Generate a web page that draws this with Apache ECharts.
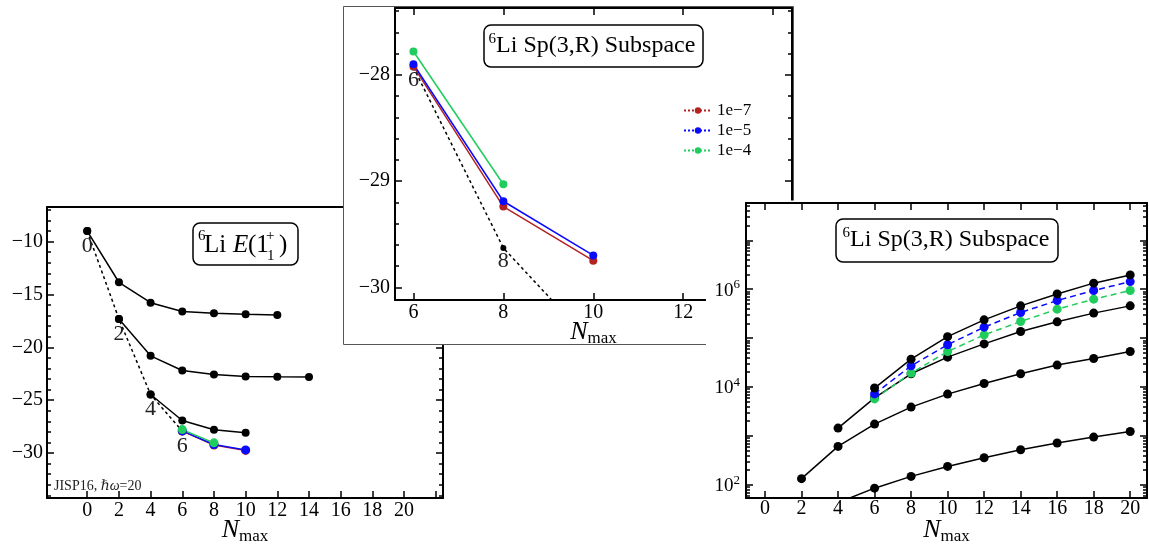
<!DOCTYPE html>
<html><head><meta charset="utf-8">
<script src="https://cdn.jsdelivr.net/npm/echarts@6/dist/echarts.min.js"></script>
<style>html,body{margin:0;padding:0;background:#fff}#c{width:1149px;height:544px}</style>
</head><body><div id="c"></div>
<script>
// ---------- DATA ----------
// Left panel: 6Li E(1+_1), JISP16
const leftAx = [0, 2, 4, 6, 8, 10, 12];
const leftAy = [-9.0, -13.84, -15.77, -16.6, -16.77, -16.86, -16.93];
const leftBx = [2, 4, 6, 8, 10, 12, 14];
const leftBy = [-17.31, -20.8, -22.19, -22.57, -22.76, -22.79, -22.8];
const leftCx = [4, 6, 8, 10];
const leftCy = [-24.46, -26.92, -27.8, -28.08];
const leftDotX = [0, 2, 4, 6];
const leftDotY = [-9.0, -17.31, -24.46, -27.93];
// Sp(3,R) subspace energies (shared by left panel and inset)
const spRedX = [6, 8, 10];   const spRedY = [-27.92, -29.24, -29.75];   // 1e-7
const spBlueX = [6, 8, 10];  const spBlueY = [-27.90, -29.19, -29.70];  // 1e-5
const spGreenX = [6, 8];     const spGreenY = [-27.78, -29.03];         // 1e-4
const insetDotX = [6, 8, 10];
const insetDotY = [-27.93, -29.63, -30.54];
// Right panel: dimensions (log scale)
const dimX1 = [6, 8, 10, 12, 14, 16, 18, 20];
const dimY1 = [9.5e3, 3.7e4, 1.07e5, 2.36e5, 4.56e5, 8.0e5, 1.33e6, 1.96e6];
const dimX2 = [4, 6, 8, 10, 12, 14, 16, 18, 20];
const dimY2 = [1440, 6000, 1.86e4, 4.07e4, 7.6e4, 1.36e5, 2.15e5, 3.24e5, 4.56e5];
const dimX3 = [2, 4, 6, 8, 10, 12, 14, 16, 18, 20];
const dimY3 = [133, 608, 1740, 3870, 7140, 1.18e4, 1.86e4, 2.8e4, 3.82e4, 5.3e4];
const dimX4 = [4, 6, 8, 10, 12, 14, 16, 18, 20];
const dimY4 = [43, 85, 148, 237, 357, 520, 713, 944, 1230];
const dimBlueX = [6, 8, 10, 12, 14, 16, 18, 20];
const dimBlueY = [7.2e3, 2.7e4, 7.3e4, 1.67e5, 3.33e5, 5.86e5, 9.4e5, 1.43e6];
const dimGreenX = [6, 8, 10, 12, 14, 16, 18, 20];
const dimGreenY = [5.7e3, 1.92e4, 5.3e4, 1.16e5, 2.18e5, 3.9e5, 6.25e5, 9.4e5];
// tick labels
const leftXTicks = [0, 2, 4, 6, 8, 10, 12, 14, 16, 18, 20, 22];
const leftXLabels = [0, 2, 4, 6, 8, 10, 12, 14, 16, 18, 20];
const legendNames = ['1e\u22127', '1e\u22125', '1e\u22124'];

// ---------- STYLE ----------
const FONT = 'Liberation Serif, DejaVu Serif, Times New Roman, serif';
const RED = '#b42222', BLUE = '#0a0aff', GREEN = '#1fcc5c';
const pts = (xs, ys) => xs.map((x, i) => [x, ys[i]]);
const minus = v => String(v).replace('-', '\u2212');

const axLine = { show: true, onZero: false, lineStyle: { color: '#000', width: 2 } };
const tick = { show: true, inside: true, length: 7, lineStyle: { color: '#000', width: 1.5 } };
const minor = n => ({ show: true, splitNumber: n, length: 4, lineStyle: { color: '#000', width: 1.5 } });
const nameRich = {
  n: { fontFamily: FONT, fontSize: 26, fontStyle: 'italic', color: '#000', lineHeight: 30, verticalAlign: 'middle' },
  s: { fontFamily: FONT, fontSize: 17, color: '#000', lineHeight: 30, verticalAlign: 'bottom' }
};
const lblStyle = { fontFamily: FONT, fontSize: 20, color: '#000' };
const NAME_GAP = 17;
const nameOpts = { name: '{n|N}{s|max}', nameLocation: 'middle', nameGap: NAME_GAP, nameMoveOverlap: false,
  nameTextStyle: { rich: nameRich } };

const xAxes = [
  Object.assign({ gridIndex: 0, type: 'value', min: -2.54, max: 22.46, zlevel: 0, z: 3,
    axisLine: axLine, axisTick: Object.assign({}, tick, { customValues: leftXTicks }),
    axisLabel: Object.assign({}, lblStyle, { margin: 3, customValues: leftXLabels }),
    splitLine: { show: false } }, nameOpts),
  { gridIndex: 0, type: 'value', position: 'top', min: -2.54, max: 22.46, zlevel: 0, z: 3,
    axisLine: axLine, axisTick: { show: false }, axisLabel: { show: false }, splitLine: { show: false } },
  Object.assign({ gridIndex: 1, type: 'value', min: 5.59, max: 14.42, splitNumber: 4, zlevel: 1, z: 3,
    axisLine: axLine, axisTick: tick, axisLabel: Object.assign({}, lblStyle, { margin: 3, showMinLabel: false, showMaxLabel: false }),
    splitLine: { show: false } }, nameOpts),
  { gridIndex: 1, type: 'value', position: 'top', min: 5.59, max: 14.42, splitNumber: 4, zlevel: 1, z: 3,
    axisLine: axLine, axisTick: tick, axisLabel: { show: false }, splitLine: { show: false } },
  Object.assign({ gridIndex: 2, type: 'value', min: -1.04, max: 20.92, splitNumber: 11, zlevel: 2, z: 3,
    axisLine: axLine, axisTick: tick,
    axisLabel: Object.assign({}, lblStyle, { margin: 1, formatter: v => (Number.isInteger(v) && v >= 0 && v <= 20) ? String(v) : '' }),
    splitLine: { show: false } }, nameOpts),
  { gridIndex: 2, type: 'value', position: 'top', min: -1.04, max: 20.92, splitNumber: 11, zlevel: 2, z: 3,
    axisLine: axLine, axisTick: tick, axisLabel: { show: false }, splitLine: { show: false } }
];

const logFmt = v => {
  const l = Math.log10(v), e = Math.round(l);
  if (Math.abs(l - e) > 1e-6 || e % 2 !== 0) return '';
  return '{b|10}{s|' + e + '}';
};
const logRich = {
  b: { fontFamily: FONT, fontSize: 19, color: '#000', lineHeight: 22, verticalAlign: 'bottom' },
  s: { fontFamily: FONT, fontSize: 13, color: '#000', lineHeight: 22, verticalAlign: 'top' }
};

const yAxes = [
  { gridIndex: 0, type: 'value', min: -34.25, max: -6.72, splitNumber: 5, zlevel: 0, z: 3,
    axisLine: axLine, axisTick: tick, minorTick: minor(5),
    axisLabel: Object.assign({}, lblStyle, { margin: 4, formatter: v => (Number.isInteger(v) && v % 5 === 0) ? minus(v) : '' }),
    splitLine: { show: false } },
  { gridIndex: 0, type: 'value', position: 'right', min: -34.25, max: -6.72, splitNumber: 5, zlevel: 0, z: 3,
    axisLine: axLine, axisTick: tick, minorTick: minor(5), axisLabel: { show: false }, splitLine: { show: false } },
  { gridIndex: 1, type: 'value', min: -30.12, max: -27.37, splitNumber: 3, zlevel: 1, z: 3,
    axisLine: axLine, axisTick: tick, minorTick: minor(5),
    axisLabel: Object.assign({}, lblStyle, { margin: 5, formatter: v => Number.isInteger(v) ? minus(v) : '' }),
    splitLine: { show: false } },
  { gridIndex: 1, type: 'value', position: 'right', min: -30.12, max: -27.37, splitNumber: 3, zlevel: 1, z: 3,
    axisLine: axLine, axisTick: tick, minorTick: minor(5), axisLabel: { show: false }, splitLine: { show: false } },
  { gridIndex: 2, type: 'log', logBase: 10, min: 53.5, max: 5.8e7, zlevel: 2, z: 3,
    axisLine: axLine, axisTick: tick, minorTick: minor(9),
    axisLabel: { margin: 6, formatter: logFmt, rich: logRich },
    splitLine: { show: false } },
  { gridIndex: 2, type: 'log', logBase: 10, position: 'right', min: 53.5, max: 5.8e7, zlevel: 2, z: 3,
    axisLine: axLine, axisTick: tick, minorTick: minor(9), axisLabel: { show: false }, splitLine: { show: false } }
];

function line(name, data, xi, color, opts) {
  const o = opts || {};
  return {
    name: name, type: 'line', xAxisIndex: xi, yAxisIndex: xi, data: data,
    zlevel: o.zlevel || 0, z: o.z || 5,
    symbol: 'circle', symbolSize: o.size || 8, showSymbol: true,
    lineStyle: { color: color, width: o.width || 1.5, type: o.type || 'solid' },
    itemStyle: { color: color },
    label: o.label || { show: false },
    emphasis: { disabled: true }, silent: true
  };
}
const dotLabel = (dist) => ({
  show: true, position: 'bottom', distance: dist, fontFamily: FONT, fontSize: 22, color: '#222',
  formatter: p => String(p.value[0])
});

const series = [
  // left panel
  line('dotL', pts(leftDotX, leftDotY), 0, '#000', { type: [3, 3], label: dotLabel(0) }),
  line('A', pts(leftAx, leftAy), 0, '#000'),
  line('B', pts(leftBx, leftBy), 0, '#000'),
  line('C', pts(leftCx, leftCy), 0, '#000'),
  line('L7', pts(spRedX, spRedY), 0, RED, { size: 9 }),
  line('L5', pts(spBlueX, spBlueY), 0, BLUE, { size: 9 }),
  line('L4', pts(spGreenX, spGreenY), 0, GREEN, { size: 9 }),
  // inset
  line('dotI', pts(insetDotX, insetDotY), 2, '#000', { zlevel: 1, size: 6, type: [3, 3], label: dotLabel(-1) }),
  line(legendNames[0], pts(spRedX, spRedY), 2, RED, { zlevel: 1 }),
  line(legendNames[1], pts(spBlueX, spBlueY), 2, BLUE, { zlevel: 1 }),
  line(legendNames[2], pts(spGreenX, spGreenY), 2, GREEN, { zlevel: 1 }),
  // right panel
  line('D4', pts(dimX4, dimY4), 4, '#000', { zlevel: 2, size: 9 }),
  line('D3', pts(dimX3, dimY3), 4, '#000', { zlevel: 2, size: 9 }),
  line('D2', pts(dimX2, dimY2), 4, '#000', { zlevel: 2, size: 9 }),
  line('Dg', pts(dimGreenX, dimGreenY), 4, GREEN, { zlevel: 2, size: 9, type: [6, 4] }),
  line('Db', pts(dimBlueX, dimBlueY), 4, BLUE, { zlevel: 2, size: 9, type: [6, 4] }),
  line('D1', pts(dimX1, dimY1), 4, '#000', { zlevel: 2, size: 9 })
];

function tx(text, x, y, size, zl, extra) {
  return Object.assign({ type: 'text', zlevel: zl, z: 12, silent: true,
    style: Object.assign({ text: text, x: x, y: y, fill: '#000', fontFamily: FONT, fontSize: size,
      align: 'left', verticalAlign: 'middle' }, (extra || {})) });
}
function box(x, y, w, h, zl) {
  return { type: 'rect', zlevel: zl, z: 11, silent: true,
    shape: { x: x, y: y, width: w, height: h, r: 7 },
    style: { fill: '#fff', stroke: '#000', lineWidth: 1.5 } };
}
const spRich = {
  s: { fontFamily: FONT, fontSize: 15, fill: '#000', lineHeight: 28, verticalAlign: 'top' },
  t: { fontFamily: FONT, fontSize: 24, fill: '#000', lineHeight: 28, verticalAlign: 'middle' }
};

const graphic = [
  // panel backgrounds
  { type: 'rect', zlevel: 1, z: 1, silent: true, shape: { x: 343.5, y: 6.5, width: 450, height: 338 },
    style: { fill: '#fff', stroke: '#555', lineWidth: 1 } },
  { type: 'rect', zlevel: 2, z: 1, silent: true, shape: { x: 706, y: 200.5, width: 443, height: 344 },
    style: { fill: '#fff' } },
  // left title
  box(193, 223, 105, 42, 0),
  tx('6', 198, 236, 15, 0),
  tx('Li', 204, 245, 25, 0),
  tx('E', 233, 245, 25, 0, { fontStyle: 'italic' }),
  tx('(1', 248, 245, 25, 0),
  tx('+', 266, 236, 15, 0),
  tx('1', 267, 256, 15, 0),
  tx(')', 279, 245, 25, 0),
  tx('{t|JISP16, }{i|\u210F\u03C9}{t|=20}', 54, 486, 14, 0, { rich: {
    t: { fontFamily: FONT, fontSize: 14, fill: '#222' },
    i: { fontFamily: FONT, fontSize: 14, fontStyle: 'italic', fill: '#222' } } }),
  // inset title
  box(484, 25, 219, 42, 1),
  tx('{s|6}{t|Li Sp(3,R) Subspace}', 592, 46, 24, 1, { align: 'center', rich: spRich }),
  // right title
  box(836, 219, 222, 43, 2),
  tx('{s|6}{t|Li Sp(3,R) Subspace}', 946, 240, 24, 2, { align: 'center', rich: spRich })
];

const option = {
  animation: false,
  backgroundColor: '#fff',
  grid: [
    { left: 47, top: 207, width: 396, height: 291, zlevel: 0, outerBoundsMode: 'none', containLabel: false },
    { left: 395, top: 8, width: 397, height: 292, zlevel: 1, outerBoundsMode: 'none', containLabel: false },
    { left: 746, top: 203, width: 401, height: 295, zlevel: 2, outerBoundsMode: 'none', containLabel: false }
  ],
  xAxis: xAxes,
  yAxis: yAxes,
  legend: {
    data: legendNames, orient: 'vertical', left: 678, top: 97, zlevel: 1, z: 12,
    itemWidth: 28, itemHeight: 8, itemGap: 3, selectedMode: false,
    lineStyle: { type: 'dotted', width: 2 },
    textStyle: { fontFamily: FONT, fontSize: 17, color: '#000' }
  },
  graphic: { elements: graphic },
  series: series
};
const chart = echarts.init(document.getElementById('c'), null, { renderer: 'canvas' });
chart.setOption(option);
</script></body></html>
